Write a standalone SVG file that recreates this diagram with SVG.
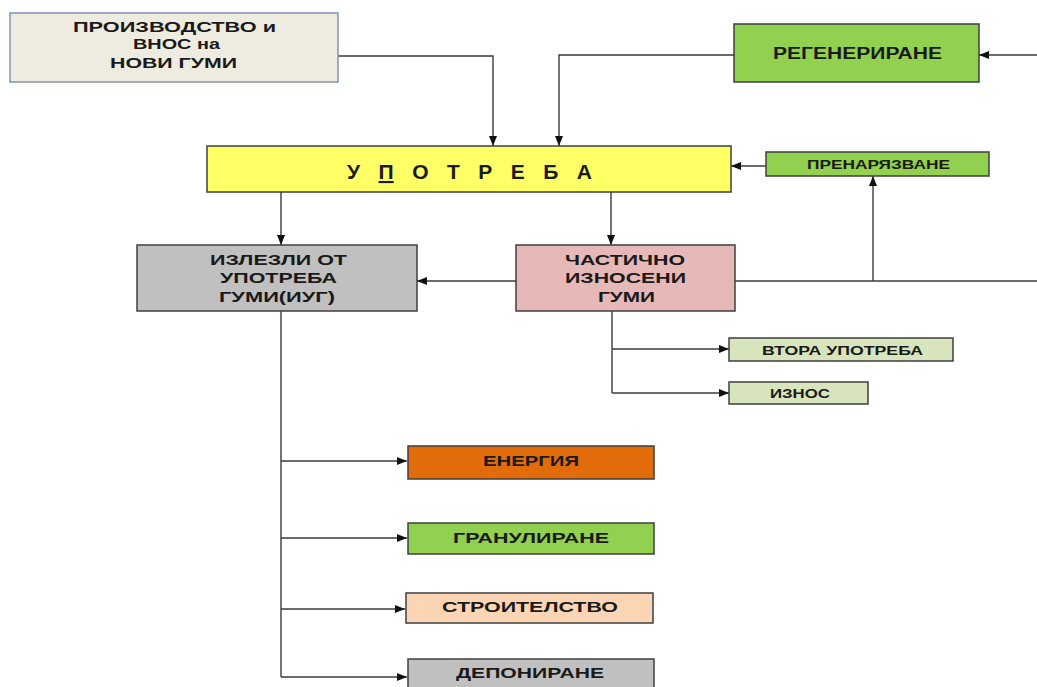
<svg xmlns="http://www.w3.org/2000/svg" width="1037" height="687" viewBox="0 0 1037 687">
<style>
  .box { stroke: #3f3f3f; stroke-width: 1.5; }
  .t { font-family: "Liberation Sans", Arial, sans-serif; font-weight: bold; fill: #1a1a1a; }
  .c { fill: none; stroke: #3a3a3a; stroke-width: 1.4; }
  .ca { fill: none; stroke: #3a3a3a; stroke-width: 1.4; marker-end: url(#ah); }
</style>
<defs>
  <marker id="ah" viewBox="0 0 10 10" refX="10" refY="5" markerWidth="10" markerHeight="10" markerUnits="userSpaceOnUse" orient="auto">
    <path d="M0,1 L10,5 L0,9 z" fill="#111"/>
  </marker>
</defs>
<rect width="1037" height="687" fill="#ffffff"/>

<g id="connectors">
  <path class="ca" d="M338,56 H493 V146"/>
  <path class="ca" d="M734,55 H559 V146"/>
  <path class="ca" d="M1037,55 H979"/>
  <path class="ca" d="M766,166 H731"/>
  <path class="ca" d="M873,281 V176"/>
  <path class="c" d="M735,281 H1037"/>
  <path class="ca" d="M281,192 V245"/>
  <path class="ca" d="M611,192 V245"/>
  <path class="ca" d="M516,281 H417"/>
  <path class="c" d="M612,311 V393"/>
  <path class="ca" d="M612,349 H729"/>
  <path class="ca" d="M612,393 H729"/>
  <path class="c" d="M281,311 V677"/>
  <path class="ca" d="M281,461 H407"/>
  <path class="ca" d="M281,538 H407"/>
  <path class="ca" d="M281,609 H405"/>
  <path class="ca" d="M281,677 H407"/>
</g>

<g id="node-proizvodstvo">
  <rect x="10" y="13" width="328" height="69" fill="#EEECE1" stroke="#7F93B0" stroke-width="1.5"/>
  <text class="t" font-size="14" x="73" y="32" textLength="203" lengthAdjust="spacingAndGlyphs">ПРОИЗВОДСТВО и</text>
  <text class="t" font-size="14" x="133" y="49" textLength="87" lengthAdjust="spacingAndGlyphs">ВНОС на</text>
  <text class="t" font-size="14" x="110" y="68" textLength="127" lengthAdjust="spacingAndGlyphs">НОВИ ГУМИ</text>
</g>

<g id="node-regenerirane">
  <rect class="box" x="734" y="24" width="245" height="58" fill="#92D050"/>
  <text class="t" font-size="16" x="773" y="59" textLength="169" lengthAdjust="spacingAndGlyphs">РЕГЕНЕРИРАНЕ</text>
</g>

<g id="node-upotreba">
  <rect class="box" x="207" y="146" width="524" height="46" fill="#FFFF66"/>
  <text class="t" font-size="21" x="347" y="179" textLength="245" lengthAdjust="spacing">У <tspan text-decoration="underline">П</tspan> О Т Р Е Б А</text>
</g>

<g id="node-prenaryazvane">
  <rect class="box" x="766" y="152" width="223" height="24" fill="#92D050"/>
  <text class="t" font-size="12" x="807" y="169" textLength="143" lengthAdjust="spacingAndGlyphs">ПРЕНАРЯЗВАНЕ</text>
</g>

<g id="node-izlezli">
  <rect class="box" x="137" y="245" width="280" height="66" fill="#C0C0C0"/>
  <text class="t" font-size="15" x="210" y="265" textLength="137" lengthAdjust="spacingAndGlyphs">ИЗЛЕЗЛИ ОТ</text>
  <text class="t" font-size="15" x="220" y="283" textLength="117" lengthAdjust="spacingAndGlyphs">УПОТРЕБА</text>
  <text class="t" font-size="15" x="219" y="302" textLength="116" lengthAdjust="spacingAndGlyphs">ГУМИ(ИУГ)</text>
</g>

<g id="node-chastichno">
  <rect class="box" x="516" y="245" width="219" height="66" fill="#E6B8B7"/>
  <text class="t" font-size="15" x="565" y="265" textLength="120" lengthAdjust="spacingAndGlyphs">ЧАСТИЧНО</text>
  <text class="t" font-size="15" x="565" y="283" textLength="121" lengthAdjust="spacingAndGlyphs">ИЗНОСЕНИ</text>
  <text class="t" font-size="15" x="598" y="302" textLength="57" lengthAdjust="spacingAndGlyphs">ГУМИ</text>
</g>

<g id="node-vtora">
  <rect class="box" x="729" y="338" width="224" height="23" fill="#D8E4BC"/>
  <text class="t" font-size="12" x="762" y="355" textLength="161" lengthAdjust="spacingAndGlyphs">ВТОРА УПОТРЕБА</text>
</g>

<g id="node-iznos">
  <rect class="box" x="729" y="382" width="139" height="22" fill="#D8E4BC"/>
  <text class="t" font-size="12" x="770" y="398" textLength="60" lengthAdjust="spacingAndGlyphs">ИЗНОС</text>
</g>

<g id="node-energiya">
  <rect class="box" x="408" y="446" width="246" height="33" fill="#E26B0A"/>
  <text class="t" font-size="14" x="483" y="466" textLength="96" lengthAdjust="spacingAndGlyphs">ЕНЕРГИЯ</text>
</g>

<g id="node-granulirane">
  <rect class="box" x="408" y="523" width="246" height="31" fill="#92D050"/>
  <text class="t" font-size="14" x="453" y="543" textLength="156" lengthAdjust="spacingAndGlyphs">ГРАНУЛИРАНЕ</text>
</g>

<g id="node-stroitelstvo">
  <rect class="box" x="406" y="593" width="247" height="30" fill="#FCD5B4"/>
  <text class="t" font-size="14" x="442" y="612" textLength="176" lengthAdjust="spacingAndGlyphs">СТРОИТЕЛСТВО</text>
</g>

<g id="node-deponirane">
  <rect class="box" x="408" y="659" width="246" height="34" fill="#C0C0C0"/>
  <text class="t" font-size="14" x="456" y="678" textLength="148" lengthAdjust="spacingAndGlyphs">ДЕПОНИРАНЕ</text>
</g>
</svg>
